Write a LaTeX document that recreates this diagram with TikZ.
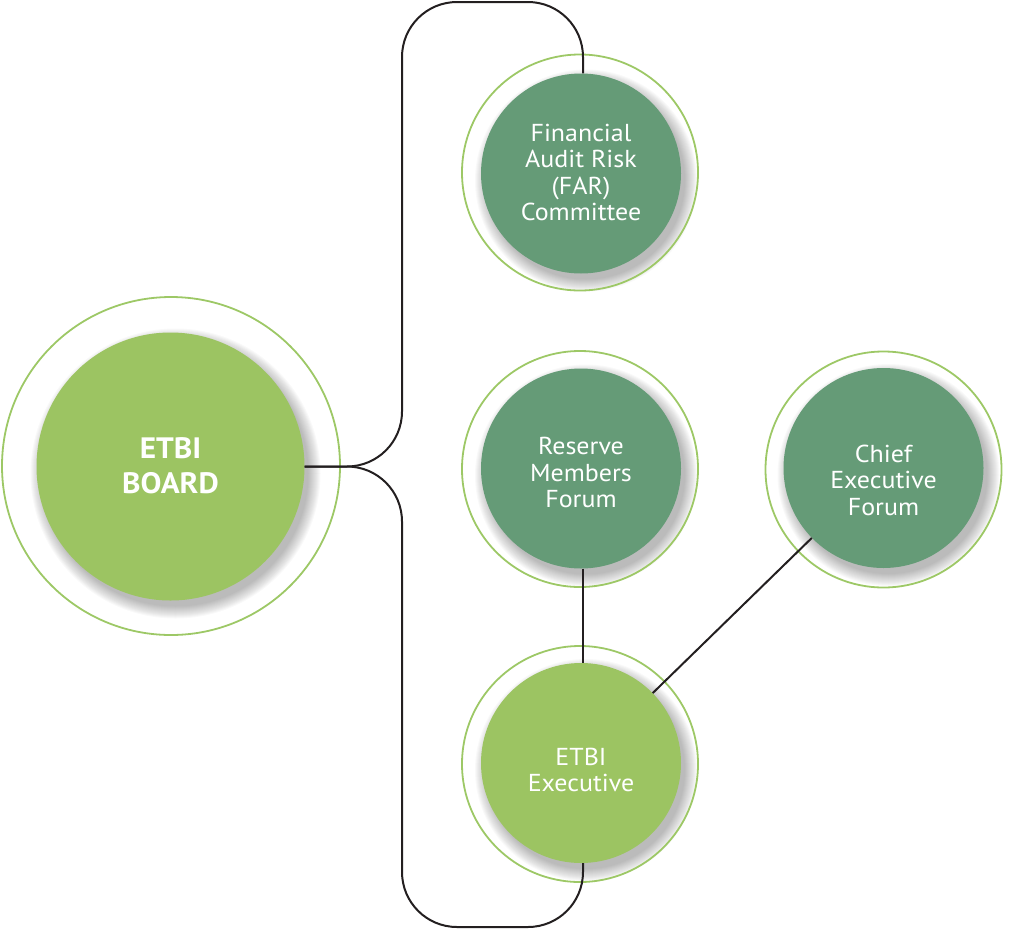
\documentclass[tikz,border=0pt]{standalone}
\usepackage{fontspec}
\setmainfont{PT Sans}[FakeStretch=1.06]
\definecolor{lgreen}{HTML}{9CC462}
\definecolor{dgreen}{HTML}{659B77}
\definecolor{ringc}{HTML}{9DC866}
\definecolor{linec}{HTML}{231F20}
\newcommand\mydropshadow[3]{%
  \foreach \i in {1,...,13}{%
    \fill[black,opacity=0.024] (#1+5,#2+7) circle [radius={(#3+12-\i)*1pt}];}}
\begin{document}
\begin{tikzpicture}[x=1pt,y=-1pt,
  ring/.style={circle,draw=ringc,line width=1.8pt,minimum size=#1,inner sep=0pt},
  disc/.style={circle,fill=#1,minimum size=200pt,inner sep=0pt},
  lbl/.style={text=white,align=center,font=\fontsize{24.5}{26.5}\selectfont},
  conn/.style={draw=linec,line width=2pt}]
\useasboundingbox (0,0) rectangle (1024,929);
% shadows
\mydropshadow{170.5}{466.5}{134}
\mydropshadow{581}{173.5}{100}
\mydropshadow{581}{468.5}{100}
\mydropshadow{883.5}{468}{100}
\mydropshadow{581}{763}{100}
% rings
\node[ring=338pt] (rB) at (171,466) {};
\node[ring=236pt] (rF) at (580,172.5) {};
\node[ring=236pt] (rR) at (580,469) {};
\node[ring=236pt] (rC) at (883.5,469.5) {};
\node[ring=236pt] (rE) at (580,764) {};
% discs
\node[disc=lgreen,minimum size=268pt] (B) at (170.5,466.5) {};
\node[disc=dgreen] (F) at (581,173.5) {};
\node[disc=dgreen] (R) at (581,468.5) {};
\node[disc=dgreen] (C) at (883.5,468) {};
\node[disc=lgreen] (E) at (581,763) {};
% labels
\node[lbl,font=\fontsize{29.5}{35}\selectfont\bfseries] (tB) at (170.5,465.5) {ETBI\\BOARD};
\node[lbl] (tF) at (581,172.5) {Financial\\Audit Risk\\(FAR)\\Committee};
\node[lbl] (tR) at (581,472.5) {Reserve\\Members\\Forum};
\node[lbl] (tC) at (883.5,480) {Chief\\Executive\\Forum};
\node[lbl] (tE) at (581,770) {ETBI\\Executive};
% connectors
\draw[conn,rounded corners=55pt] (B.east) -- (402,466.5) -- (402,2) -- (583,2) -- ([xshift=2pt]F.north);
\draw[conn,rounded corners=55pt] (B.east) -- (402,466.5) -- (402,927) -- (583,927) -- ([xshift=2pt]E.south);
\draw[conn] ([xshift=2pt]R.south) -- ([xshift=2pt]E.north);
\draw[conn] (C) -- (E);
\end{tikzpicture}
\end{document}
